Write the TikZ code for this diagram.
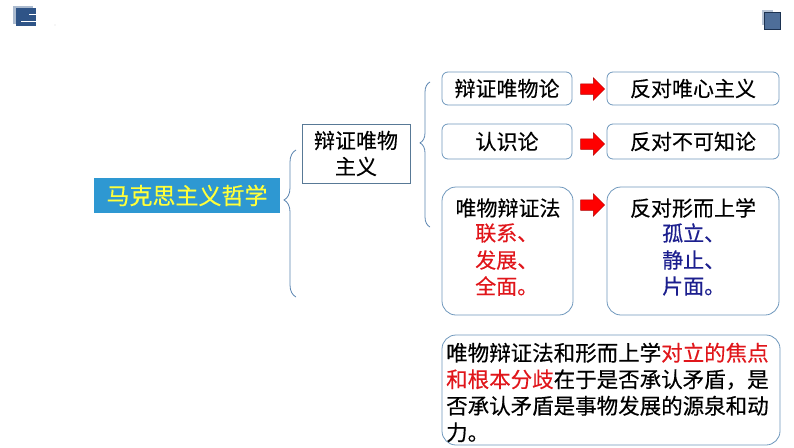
\documentclass[tikz,border=0pt]{standalone}
\usepackage{fontspec}
\newfontfamily\cjk[FakeBold=0.35]{Noto Sans CJK SC}
\usetikzlibrary{shapes.arrows,decorations.pathreplacing}
\definecolor{mainblue}{HTML}{2E98D2}
\definecolor{mainyellow}{HTML}{FFFF3A}
\definecolor{boxline}{HTML}{6E97BC}
\definecolor{braceline}{HTML}{5A84B0}
\definecolor{redtxt}{HTML}{E0161B}
\definecolor{bluetxt}{HTML}{1C1F8E}
\definecolor{decodark}{HTML}{2F5487}
\tikzset{
  cjkfont/.style={font=\cjk\fontsize{21}{26}\selectfont},
  rbox/.style={draw=boxline, line width=0.8pt, rounded corners=6pt, inner sep=0pt},
  bigbox/.style={draw=boxline, line width=0.8pt, rounded corners=14pt, inner sep=0pt},
  redarrow/.style={single arrow, fill=red, draw=red!70!black, line width=0.5pt,
    minimum height=24pt, inner sep=5pt, single arrow head extend=6pt},
  bracestyle/.style={draw=braceline, line width=0.8pt, decorate},
}
\begin{document}
\begin{tikzpicture}[x=1pt,y=-1pt, cjkfont]
\useasboundingbox (0,0) rectangle (794,447);
% corner decorations
\fill[decodark!40] (13,6) rectangle (33,24);
\fill[decodark] (16,8) rectangle (36,26);
\draw[white, line width=0.6pt] (21,21) -- (36,21);
\draw[white, line width=0.4pt] (29,14) -- (36,14);
\fill[gray!30] (55,25) circle (0.7);
\fill[decodark!35] (762,10) rectangle (773,25);
\fill[decodark!85] (764,12) rectangle (780,29);
\draw[decodark!60!black, line width=0.6pt] (764,12) rectangle (780,29);

% main node
\node[fill=mainblue, text=mainyellow, minimum width=186pt, minimum height=35pt, inner sep=0pt,
  font=\cjk\fontsize{23}{27}\selectfont] (main) at (187,195.5) {马克思主义哲学};

% brace 1
\coordinate (b1bot) at (296,297);
\coordinate (b1top) at (296,150);
\draw[bracestyle, decoration={brace, amplitude=12pt, aspect=0.66}] (b1bot) -- (b1top);

% dialectical materialism box
\node[draw=boxline!80!black, line width=0.8pt, minimum width=108pt, minimum height=59pt,
  inner sep=0pt, align=center, font=\cjk\fontsize{21}{26}\selectfont] (dm) at (356,153.5) {辩证唯物\\主义};

% brace 2
\coordinate (b2bot) at (430,227);
\coordinate (b2top) at (430,82);
\draw[bracestyle, decoration={brace, amplitude=10pt, aspect=0.58}] (b2bot) -- (b2top);

% rows
\node[rbox, minimum width=130pt, minimum height=33pt] (a1) at (507,88.5) {辩证唯物论};
\node[rbox, minimum width=172pt, minimum height=33pt] (c1) at (693,88.5) {反对唯心主义};
\node[redarrow] (r1) at (590,89) {};

\node[rbox, minimum width=130pt, minimum height=35pt] (a2) at (507,141.5) {认识论};
\node[rbox, minimum width=172pt, minimum height=35pt] (c2) at (693,141.5) {反对不可知论};
\node[redarrow] (r2) at (590,144) {};

\node[bigbox, minimum width=131pt, minimum height=128pt] (a3) at (507.5,251) {};
\node[bigbox, minimum width=172pt, minimum height=128pt] (c3) at (693,251) {};
\node[redarrow] (r3) at (590,205) {};

\node (a3t) at (508,208) {唯物辩证法};
\node[text=redtxt, anchor=west, inner sep=0pt] (a3l1) at (475,233) {联系、};
\node[text=redtxt, anchor=west, inner sep=0pt] (a3l2) at (475,260) {发展、};
\node[text=redtxt, anchor=west, inner sep=0pt] (a3l3) at (475,286) {全面。};

\node (c3t) at (693,208) {反对形而上学};
\node[text=bluetxt, anchor=west, inner sep=0pt] (c3l1) at (662,233) {孤立、};
\node[text=bluetxt, anchor=west, inner sep=0pt] (c3l2) at (662,260) {静止、};
\node[text=bluetxt, anchor=west, inner sep=0pt] (c3l3) at (662,286) {片面。};

% bottom box
\node[bigbox, minimum width=338pt, minimum height=110pt] (bot) at (611,390) {};
\node[anchor=north west, inner sep=0pt, align=left, font=\cjk\fontsize{21.5}{26.5}\selectfont] (bottxt) at (446,342.5)
 {唯物辩证法和形而上学\textcolor{redtxt}{对立的焦点}\\
  \textcolor{redtxt}{和根本分歧}在于是否承认矛盾，是\\
  否承认矛盾是事物发展的源泉和动\\
  力。};
\end{tikzpicture}
\end{document}
